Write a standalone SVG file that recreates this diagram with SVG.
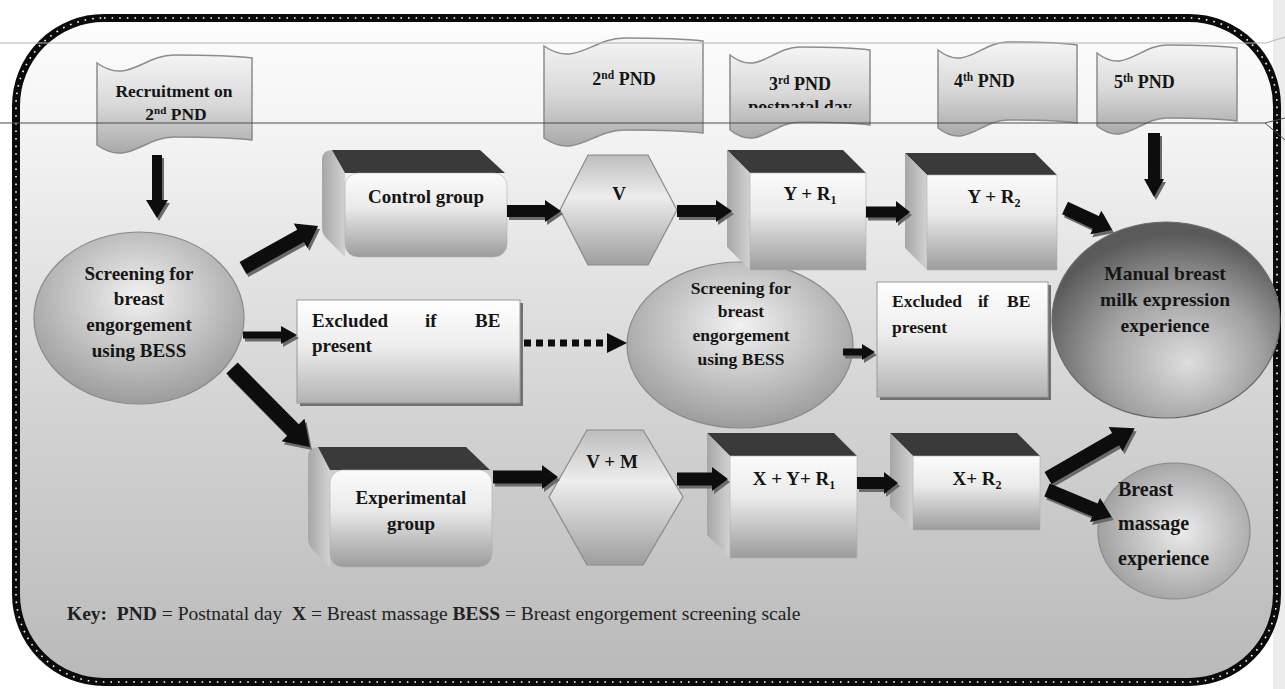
<svg xmlns="http://www.w3.org/2000/svg" xmlns:xlink="http://www.w3.org/1999/xlink" width="1285" height="689" viewBox="0 0 1285 689">
<style>
.t{font-family:"Liberation Serif","Times New Roman",serif;font-weight:bold;fill:#151515}
.k{font-family:"Liberation Serif","Times New Roman",serif;fill:#222}
.kb{font-weight:bold}
.ban{fill:url(#banGrad);stroke:#8c8c8c;stroke-width:1.5}
.ell{fill:url(#ellGrad);stroke:#8a8a8a;stroke-width:1.2}
.hex{fill:url(#hexGrad);stroke:#8a8a8a;stroke-width:1.2}
.top{fill:#3a3a3a}
.side{fill:url(#sideGrad)}
.face{fill:url(#faceGrad);stroke:#b0b0b0;stroke-width:0.6}
.exc{fill:url(#exclGrad);stroke:#9a9a9a;stroke-width:1}
.excs{fill:#707070}
.arr{fill:#0d0d0d}
.sh{fill:#6a6a6a}
</style>
<defs>
<linearGradient id="bgGrad" x1="0" y1="0" x2="0" y2="1">
<stop offset="0" stop-color="#fdfdfd"/><stop offset="0.18" stop-color="#f3f3f3"/><stop offset="0.55" stop-color="#d6d6d6"/><stop offset="1" stop-color="#b9b9b9"/>
</linearGradient>
<linearGradient id="banGrad" x1="0" y1="0" x2="0" y2="1">
<stop offset="0" stop-color="#f5f5f5"/><stop offset="0.5" stop-color="#d9d9d9"/><stop offset="1" stop-color="#a9a9a9"/>
</linearGradient>
<radialGradient id="ellGrad" cx="0.5" cy="0.38" r="0.62">
<stop offset="0" stop-color="#f2f2f2"/><stop offset="1" stop-color="#9c9c9c"/>
</radialGradient>
<radialGradient id="manGrad" cx="0.55" cy="0.68" r="0.62" fx="0.6" fy="0.72">
<stop offset="0" stop-color="#dedede"/><stop offset="0.55" stop-color="#a2a2a2"/><stop offset="1" stop-color="#5a5a5a"/>
</radialGradient>
<radialGradient id="massGrad" cx="0.55" cy="0.5" r="0.6">
<stop offset="0" stop-color="#ececec"/><stop offset="1" stop-color="#9a9a9a"/>
</radialGradient>
<linearGradient id="hexGrad" x1="0" y1="0" x2="0" y2="1">
<stop offset="0" stop-color="#bdbdbd"/><stop offset="0.38" stop-color="#ededed"/><stop offset="1" stop-color="#9e9e9e"/>
</linearGradient>
<linearGradient id="faceGrad" x1="0" y1="0" x2="0" y2="1">
<stop offset="0" stop-color="#fbfbfb"/><stop offset="0.4" stop-color="#ebebeb"/><stop offset="1" stop-color="#9c9c9c"/>
</linearGradient>
<linearGradient id="sideGrad" x1="0" y1="0" x2="1" y2="0">
<stop offset="0" stop-color="#a6a6a6"/><stop offset="1" stop-color="#d2d2d2"/>
</linearGradient>
<linearGradient id="exclGrad" x1="0" y1="0" x2="0" y2="1">
<stop offset="0" stop-color="#ffffff"/><stop offset="0.45" stop-color="#ededed"/><stop offset="1" stop-color="#b2b2b2"/>
</linearGradient>
<clipPath id="clipPost"><rect x="730" y="60" width="140" height="48"/></clipPath>
<path id="a1" d="M0,-5 L45,-5 L45,-11 L63,0 L45,11 L45,5 L0,5Z" transform="translate(157,155) rotate(90)"/>
<path id="a2" d="M0,-7 L66,-7 L66,-14 L86,0 L66,14 L66,7 L0,7Z" transform="translate(243,268) rotate(-29.2)"/>
<path id="a3" d="M0,-3.5 L38,-3.5 L38,-9 L54,0 L38,9 L38,3.5 L0,3.5Z" transform="translate(243,335)"/>
<path id="a4" d="M0,-8 L87,-8 L87,-16 L111,0 L87,16 L87,8 L0,8Z" transform="translate(232,368) rotate(45.4)"/>
<path id="a5" d="M0,-6 L38,-6 L38,-11 L54,0 L38,11 L38,6 L0,6Z" transform="translate(507,211)"/>
<path id="a6" d="M0,-6 L39,-6 L39,-11 L55,0 L39,11 L39,6 L0,6Z" transform="translate(677,211)"/>
<path id="a7" d="M0,-5.5 L30,-5.5 L30,-11 L44,0 L30,11 L30,5.5 L0,5.5Z" transform="translate(866,212)"/>
<path id="a8" d="M0,-7 L34,-7 L34,-13 L52,0 L34,13 L34,7 L0,7Z" transform="translate(1065,208) rotate(25.1)"/>
<path id="a9" d="M0,-6 L46,-6 L46,-10 L64,0 L46,10 L46,6 L0,6Z" transform="translate(1154,133) rotate(90)"/>
<path id="a11" d="M0,-3.5 L19,-3.5 L19,-8 L32,0 L19,8 L19,3.5 L0,3.5Z" transform="translate(843,352)"/>
<path id="a12" d="M0,-6.5 L49,-6.5 L49,-12 L65,0 L49,12 L49,6.5 L0,6.5Z" transform="translate(493,477)"/>
<path id="a13" d="M0,-6.5 L35,-6.5 L35,-12 L51,0 L35,12 L35,6.5 L0,6.5Z" transform="translate(677,479)"/>
<path id="a14" d="M0,-6 L27,-6 L27,-11 L41,0 L27,11 L27,6 L0,6Z" transform="translate(857,483)"/>
<path id="a15" d="M0,-7 L78,-7 L78,-14 L100,0 L78,14 L78,7 L0,7Z" transform="translate(1048,478) rotate(-29.9)"/>
<path id="a16" d="M0,-7 L52,-7 L52,-13 L70,0 L52,13 L52,7 L0,7Z" transform="translate(1047,490) rotate(22.6)"/>
</defs>

<rect x="0" y="0" width="1285" height="689" fill="#ffffff"/>
<rect x="1273" y="0" width="12" height="689" fill="#ececec"/>

<g id="frame">
<rect x="16" y="18" width="1261" height="664" rx="88" ry="88" fill="url(#bgGrad)"/>
<rect x="16" y="18" width="1261" height="664" rx="88" ry="88" fill="none" stroke="#0a0a0a" stroke-width="8"/>
<rect x="16" y="18" width="1261" height="664" rx="88" ry="88" fill="none" stroke="#ffffff" stroke-width="1.6" stroke-dasharray="1.6 6"/>
</g>

<g id="banner-recruitment">
<path class="ban" d="M97,63 C128,85 143,55 174,55 C205,55 236,56 252,58 L252,140 C236,138 205,137 174,137 C143,137 128,167 97,145 Z"/>
<text class="t" font-size="17.5" x="174" y="97" text-anchor="middle">Recruitment on</text>
<text class="t" font-size="17.5" x="176" y="120" text-anchor="middle">2<tspan font-size="11" dy="-6">nd</tspan><tspan dy="6"> PND</tspan></text>
</g>
<g id="banner-pnd2">
<path class="ban" d="M544,46 C576,68 592,38 624,38 C656,38 687,39 703,41 L703,133 C687,131 656,130 624,130 C592,130 576,160 544,138 Z"/>
<text class="t" font-size="18" x="624" y="85" text-anchor="middle">2<tspan font-size="11.5" dy="-6">nd</tspan><tspan dy="6"> PND</tspan></text>
</g>
<g id="banner-pnd3">
<path class="ban" d="M730,55 C758,77 772,47 800,47 C828,47 856,48 870,50 L870,125 C856,123 828,122 800,122 C772,122 758,152 730,130 Z"/>
<text class="t" font-size="18" x="800" y="90" text-anchor="middle">3<tspan font-size="11.5" dy="-6">rd</tspan><tspan dy="6"> PND</tspan></text>
<text class="t" font-size="18" x="800" y="113" text-anchor="middle" clip-path="url(#clipPost)">postnatal day</text>
</g>
<g id="banner-pnd4">
<path class="ban" d="M938,50 C966,72 980,42 1008,42 C1036,42 1063,43 1077,45 L1077,123 C1063,121 1036,120 1008,120 C980,120 966,150 938,128 Z"/>
<text class="t" font-size="18" x="954" y="87">4<tspan font-size="11.5" dy="-6">th</tspan><tspan dy="6"> PND</tspan></text>
</g>
<g id="banner-pnd5">
<path class="ban" d="M1097,53 C1125,75 1139,45 1167,45 C1195,45 1223,46 1237,48 L1237,121 C1223,119 1195,118 1167,118 C1139,118 1125,148 1097,126 Z"/>
<text class="t" font-size="18" x="1114" y="88">5<tspan font-size="11.5" dy="-6">th</tspan><tspan dy="6"> PND</tspan></text>
</g>

<g id="screening-1">
<ellipse class="ell" cx="139" cy="318" rx="105" ry="86"/>
<text class="t" font-size="19" text-anchor="middle"><tspan x="139" y="280">Screening for</tspan><tspan x="139" y="305">breast</tspan><tspan x="139" y="331">engorgement</tspan><tspan x="139" y="357">using BESS</tspan></text>
</g>

<g id="control-group">
<path class="side" d="M332,150 L345,173 L345,257 L326,238 Q322,234 322,226 L322,160 Q322,150 332,150 Z"/>
<path class="top" d="M332,150 L480,150 L505,173 L345,173 Z"/>
<rect class="face" x="345" y="173" width="162" height="84" rx="13"/>
<text class="t" font-size="19" x="426" y="203" text-anchor="middle">Control group</text>
</g>

<g id="experimental-group">
<path class="side" d="M318,447 L330,470 L330,567 L312,549 Q308,545 308,537 L308,457 Q308,447 318,447 Z"/>
<path class="top" d="M318,447 L466,447 L490,470 L330,470 Z"/>
<rect class="face" x="330" y="470" width="162" height="97" rx="13"/>
<text class="t" font-size="19" text-anchor="middle"><tspan x="411" y="504">Experimental</tspan><tspan x="411" y="530">group</tspan></text>
</g>

<g id="excluded-1">
<rect class="excs" x="300" y="303" width="223" height="103"/>
<rect class="exc" x="297" y="300" width="223" height="103"/>
<text class="t" font-size="19"><tspan x="312" y="327">Excluded</tspan><tspan x="425" y="327">if</tspan><tspan x="475" y="327">BE</tspan><tspan x="312" y="352">present</tspan></text>
</g>

<g id="screening-2">
<ellipse class="ell" cx="740" cy="345" rx="113" ry="83"/>
<text class="t" font-size="17.5" text-anchor="middle"><tspan x="741" y="294">Screening for</tspan><tspan x="741" y="317">breast</tspan><tspan x="741" y="341">engorgement</tspan><tspan x="741" y="365">using BESS</tspan></text>
</g>

<g id="excluded-2">
<rect class="excs" x="880" y="285" width="171" height="115"/>
<rect class="exc" x="877" y="282" width="171" height="115"/>
<text class="t" font-size="17.5"><tspan x="892" y="307">Excluded</tspan><tspan x="978" y="307">if</tspan><tspan x="1007" y="307">BE</tspan><tspan x="892" y="333">present</tspan></text>
</g>

<g id="hex-v">
<polygon class="hex" points="588,155 648,155 677,210 648,265 588,265 560,210"/>
<text class="t" font-size="19" x="619" y="200" text-anchor="middle">V</text>
</g>
<g id="hex-vm">
<polygon class="hex" points="587,430 643,430 683,497 643,565 587,565 549,497"/>
<text class="t" font-size="19" x="612" y="468" text-anchor="middle">V + M</text>
</g>

<g id="box-yr1">
<polygon class="top" points="727,150 843,150 866,173 750,173"/>
<polygon class="side" points="727,150 750,173 750,270 727,247"/>
<rect class="face" x="750" y="173" width="116" height="97"/>
<text class="t" font-size="19" x="810" y="200" text-anchor="middle">Y + R<tspan font-size="12" dy="4">1</tspan></text>
</g>
<g id="box-yr2">
<polygon class="top" points="905,153 1035,153 1057,175 927,175"/>
<polygon class="side" points="905,153 927,175 927,270 905,248"/>
<rect class="face" x="927" y="175" width="130" height="95"/>
<text class="t" font-size="19" x="994" y="203" text-anchor="middle">Y + R<tspan font-size="12" dy="4">2</tspan></text>
</g>
<g id="box-xyr1">
<polygon class="top" points="707,433 834,433 857,456 730,456"/>
<polygon class="side" points="707,433 730,456 730,558 707,535"/>
<rect class="face" x="730" y="456" width="127" height="102"/>
<text class="t" font-size="19" x="794" y="485" text-anchor="middle">X + Y+ R<tspan font-size="12" dy="4">1</tspan></text>
</g>
<g id="box-xr2">
<polygon class="top" points="890,433 1017,433 1040,456 913,456"/>
<polygon class="side" points="890,433 913,456 913,530 890,507"/>
<rect class="face" x="913" y="456" width="127" height="74"/>
<text class="t" font-size="19" x="977" y="485" text-anchor="middle">X+ R<tspan font-size="12" dy="4">2</tspan></text>
</g>

<g id="manual-expression">
<ellipse cx="1166" cy="320" rx="114" ry="98" fill="url(#manGrad)" stroke="#6a6a6a" stroke-width="1.2"/>
<text class="t" font-size="19.5" text-anchor="middle"><tspan x="1165" y="280">Manual breast</tspan><tspan x="1165" y="306">milk expression</tspan><tspan x="1165" y="332">experience</tspan></text>
</g>
<g id="massage-experience">
<ellipse cx="1174" cy="531" rx="76" ry="68" fill="url(#massGrad)" stroke="#8a8a8a" stroke-width="1.2"/>
<text class="t" font-size="20"><tspan x="1118" y="496">Breast</tspan><tspan x="1118" y="530">massage</tspan><tspan x="1118" y="565">experience</tspan></text>
</g>

<g id="connectors">
<g class="sh" transform="translate(2,3)">
<use xlink:href="#a1"/><use xlink:href="#a2"/><use xlink:href="#a3"/><use xlink:href="#a4"/><use xlink:href="#a5"/><use xlink:href="#a6"/><use xlink:href="#a7"/><use xlink:href="#a8"/><use xlink:href="#a9"/><use xlink:href="#a11"/><use xlink:href="#a12"/><use xlink:href="#a13"/><use xlink:href="#a14"/><use xlink:href="#a15"/><use xlink:href="#a16"/>
</g>
<g class="arr">
<use xlink:href="#a1"/><use xlink:href="#a2"/><use xlink:href="#a3"/><use xlink:href="#a4"/><use xlink:href="#a5"/><use xlink:href="#a6"/><use xlink:href="#a7"/><use xlink:href="#a8"/><use xlink:href="#a9"/><use xlink:href="#a11"/><use xlink:href="#a12"/><use xlink:href="#a13"/><use xlink:href="#a14"/><use xlink:href="#a15"/><use xlink:href="#a16"/>
</g>
<line x1="524" y1="343" x2="608" y2="343" stroke="#0d0d0d" stroke-width="7" stroke-dasharray="7 5"/>
<polygon class="arr" points="607,333 627,343 607,353"/>
</g>

<g id="key">
<text class="k" font-size="19.5" x="67" y="620" xml:space="preserve"><tspan class="kb">Key:</tspan>  <tspan class="kb">PND</tspan> = Postnatal day  <tspan class="kb">X</tspan> = Breast massage <tspan class="kb">BESS</tspan> = Breast engorgement screening scale</text>
</g>

<g id="guides" fill="none">
<path d="M0,43 L1266,43 L1285,37" stroke="#b4b4b4" stroke-width="1"/>
<path d="M0,123 L1265,123 L1285,140 M1265,123 L1285,118" stroke="#4a4a4a" stroke-width="1"/>
</g>
</svg>
